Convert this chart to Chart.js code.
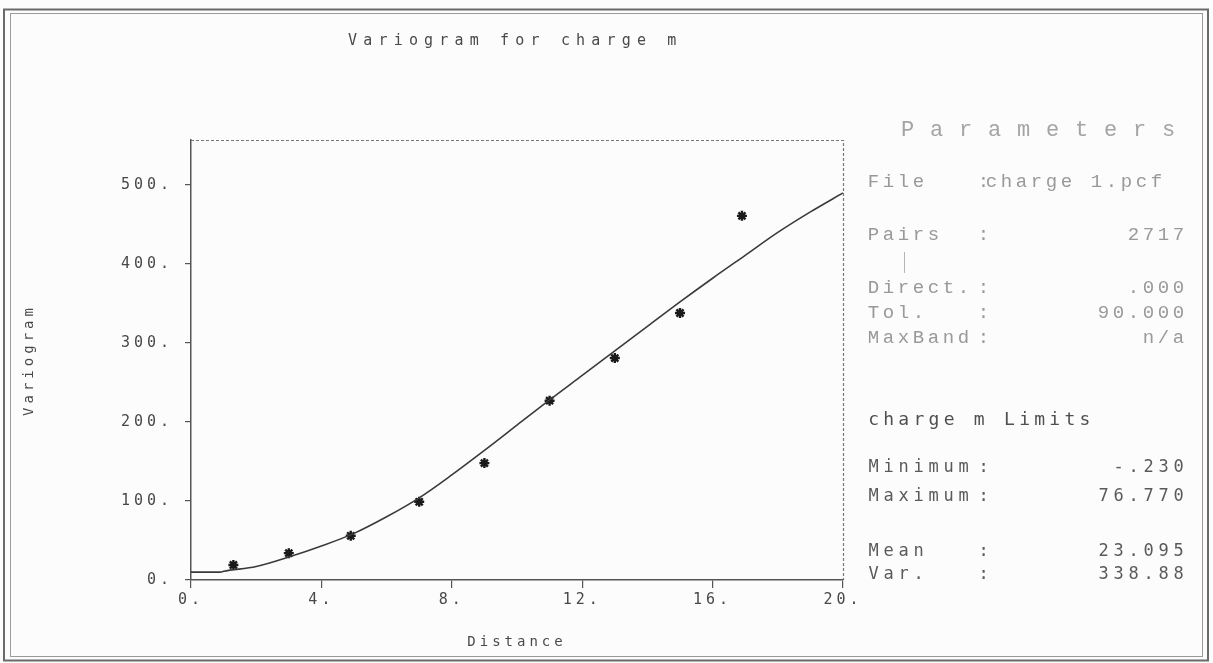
<!DOCTYPE html>
<html><head><meta charset="utf-8">
<script src="https://cdn.jsdelivr.net/npm/chart.js@4"></script>
<style>html,body{margin:0;padding:0;background:#fff;}canvas{display:block}</style>
</head><body>
<canvas id="c" width="1213" height="663"></canvas>
<script>
// ---- data ----
const chartTitle = 'Variogram for charge m';
const xAxisTitle = 'Distance';
const yAxisTitle = 'Variogram';
const xTickValues = [0, 4, 8, 12, 16, 20];
const yTickValues = [0, 100, 200, 300, 400, 500];
const lagDistance  = [1.3, 3.0, 4.9, 7.0, 9.0, 11.0, 13.0, 15.0, 16.9];
const lagVariogram = [19, 34, 56, 99, 148, 227, 281, 338, 461];
const modelDistance  = [0, 0.9, 1, 2, 3, 4, 5, 6, 7, 8, 9, 10, 11, 12, 13, 14, 15, 16, 17, 18, 19, 20];
const modelVariogram = [10, 10, 11, 17, 29, 43, 59, 80, 104, 133, 164, 196, 228, 259, 290, 321, 352, 382, 411, 440, 466, 490];
const panelTitle = 'Parameters';
const paramLabels = ['File', 'Pairs', 'Direct.', 'Tol.', 'MaxBand'];
const paramValues = ['charge 1.pcf', '2717', '.000', '90.000', 'n/a'];
const limitsTitle = 'charge m Limits';
const statLabels = ['Minimum', 'Maximum', 'Mean', 'Var.'];
const statValues = ['-.230', '76.770', '23.095', '338.88'];

const MONO = '"DejaVu Sans Mono", "Liberation Mono", monospace';
const SERIFMONO = '"Liberation Mono", "DejaVu Sans Mono", monospace';

function drawMono(ctx, text, x, y, pitch, align) {
  const n = text.length;
  let start = align === 'right' ? x - n * pitch : x;
  ctx.textAlign = 'center';
  ctx.textBaseline = 'middle';
  for (let i = 0; i < n; i++) {
    ctx.fillText(text[i], start + (i + 0.5) * pitch, y);
  }
}

const decor = {
  id: 'decor',
  beforeDraw(chart) {
    const ctx = chart.ctx;
    ctx.save();
    ctx.fillStyle = '#fcfcfc';
    ctx.fillRect(0, 0, chart.width, chart.height);
    ctx.strokeStyle = '#6a6a6a';
    ctx.lineWidth = 2;
    ctx.strokeRect(4, 9.5, 1204, 651);
    ctx.strokeStyle = '#9a9a9a';
    ctx.lineWidth = 1;
    ctx.strokeRect(10.5, 13.5, 1192, 643);
    ctx.restore();
    ctx.letterSpacing = '4px';
  },
  afterDraw(chart) {
    const ctx = chart.ctx;
    const a = chart.chartArea;
    ctx.save();
    ctx.letterSpacing = '0px';
    // plot box top & right (dotted)
    ctx.strokeStyle = '#777';
    ctx.lineWidth = 1.2;
    ctx.setLineDash([3, 2]);
    ctx.beginPath();
    ctx.moveTo(a.left, a.top + 0.5);
    ctx.lineTo(a.right + 0.5, a.top + 0.5);
    ctx.lineTo(a.right + 0.5, a.bottom);
    ctx.stroke();
    ctx.setLineDash([]);

    // chart title
    ctx.fillStyle = '#4a4a4a';
    ctx.font = '15px ' + MONO;
    drawMono(ctx, chartTitle, 345, 41, 15.2, 'left');

    // parameter panel
    ctx.fillStyle = '#a4a4a4';
    ctx.font = '22px ' + SERIFMONO;
    drawMono(ctx, panelTitle, 893, 130, 29, 'left');

    ctx.font = '19px ' + SERIFMONO;
    const pitch = 15;
    const rowsY = [182, 235, 288, 313, 338];
    for (let i = 0; i < paramLabels.length; i++) {
      ctx.fillStyle = '#999';
      drawMono(ctx, paramLabels[i], 866, rowsY[i], pitch, 'left');
      drawMono(ctx, ':', 976, rowsY[i], pitch, 'left');
      if (i === 0) drawMono(ctx, paramValues[i], 984, rowsY[i], pitch, 'left');
      else drawMono(ctx, paramValues[i], 1186, rowsY[i], pitch, 'right');
    }
    ctx.strokeStyle = '#b5b5b5';
    ctx.lineWidth = 1;
    ctx.beginPath();
    ctx.moveTo(904.5, 252); ctx.lineTo(904.5, 273);
    ctx.stroke();

    ctx.fillStyle = '#505050';
    ctx.font = '18px ' + MONO;
    drawMono(ctx, limitsTitle, 866, 420, 15.1, 'left');

    const statY = [468, 497, 552, 575];
    ctx.fillStyle = '#5a5a5a';
    ctx.font = '17px ' + MONO;
    for (let i = 0; i < statLabels.length; i++) {
      drawMono(ctx, statLabels[i], 866, statY[i], pitch, 'left');
      drawMono(ctx, ':', 976, statY[i], pitch, 'left');
      drawMono(ctx, statValues[i], 1186, statY[i], pitch, 'right');
    }
    ctx.restore();
  }
};

const tickFont = { family: MONO, size: 15 };

new Chart(document.getElementById('c'), {
  type: 'scatter',
  data: {
    datasets: [
      {
        label: 'model',
        type: 'line',
        data: modelDistance.map((x, i) => ({ x, y: modelVariogram[i] })),
        borderColor: '#3a3a3a',
        borderWidth: 1.6,
        pointRadius: 0,
        cubicInterpolationMode: 'monotone',
        fill: false
      },
      {
        label: 'experimental',
        data: lagDistance.map((x, i) => ({ x, y: lagVariogram[i] })),
        pointStyle: 'star',
        pointRadius: 5,
        borderColor: '#1a1a1a',
        backgroundColor: '#1a1a1a',
        borderWidth: 2.4,
        showLine: false
      }
    ]
  },
  options: {
    responsive: false,
    animation: false,
    devicePixelRatio: 1,
    layout: { padding: { top: 140, right: 370, left: 0, bottom: 0 } },
    plugins: { legend: { display: false }, tooltip: { enabled: false }, title: { display: false } },
    scales: {
      x: {
        type: 'linear', min: 0, max: 20,
        afterBuildTicks: s => { s.ticks = xTickValues.map(v => ({ value: v })); },
        afterFit: s => { s.height = 83; },
        ticks: { font: tickFont, color: '#484848', padding: 3, maxRotation: 0, callback: v => v + '.' },
        grid: { display: true, drawOnChartArea: false, drawTicks: true, tickLength: 8, color: '#555', lineWidth: 1.2 },
        border: { display: true, color: '#555', width: 1.5 },
        title: { display: true, text: xAxisTitle, font: { family: MONO, size: 14 }, color: '#4a4a4a', padding: { top: 0, bottom: 12 } }
      },
      y: {
        type: 'linear', min: 0, max: 557,
        afterBuildTicks: s => { s.ticks = yTickValues.map(v => ({ value: v })); },
        afterFit: s => { s.width = 191; },
        ticks: { font: tickFont, color: '#484848', padding: 12, callback: v => v + '.' },
        grid: { display: true, drawOnChartArea: false, drawTicks: true, tickLength: 6, color: '#555', lineWidth: 1.2 },
        border: { display: true, color: '#555', width: 1.5 },
        title: { display: true, text: yAxisTitle, font: { family: MONO, size: 14 }, color: '#4a4a4a', padding: { top: 21, bottom: 0 } }
      }
    }
  },
  plugins: [decor]
});
</script>
</body></html>
